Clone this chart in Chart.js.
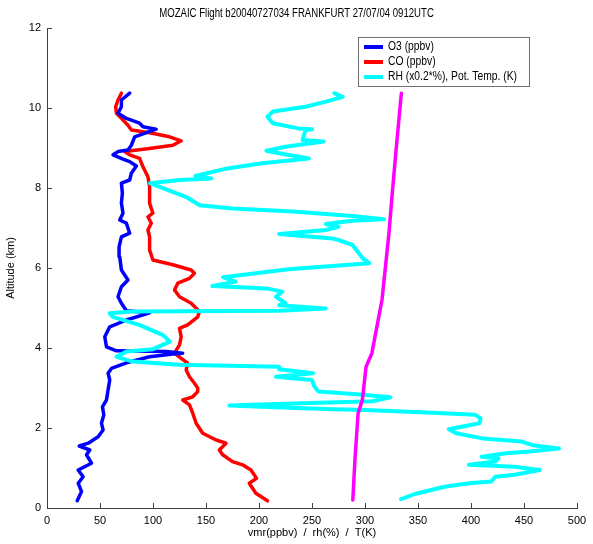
<!DOCTYPE html>
<html>
<head>
<meta charset="utf-8">
<script src="https://cdn.jsdelivr.net/npm/chart.js@4.4.0/dist/chart.umd.min.js"></script>
<style>
html,body{margin:0;padding:0;background:#ffffff;}
#wrap{width:593px;height:544px;}
</style>
</head>
<body>
<div id="wrap"><canvas id="c" width="593" height="544"></canvas></div>
<script>
// ---- tick labels ----
const xTicks = [0, 50, 100, 150, 200, 250, 300, 350, 400, 450, 500];
const yTicks = [0, 2, 4, 6, 8, 10, 12];

// ---- O3 (ppbv) ----
const o3Alt = [0.18,0.41,0.62,0.78,0.95,1.12,1.33,1.45,1.55,1.62,1.78,1.95,2.12,2.33,2.53,2.7,2.95,3.2,3.37,3.49,3.63,3.78,3.85,3.87,3.91,3.93,4.03,4.28,4.53,4.7,4.88,4.93,5.12,5.28,5.53,5.7,5.95,6.28,6.53,6.78,6.87,7.12,7.2,7.37,7.62,7.87,8.12,8.2,8.37,8.55,8.66,8.72,8.83,8.91,8.95,9.07,9.28,9.47,9.53,9.62,9.74,9.87,10.03,10.2,10.37];
const o3Val = [28.5,32.6,29.4,34.1,29.4,42,37.3,40.4,30.4,38.9,48.2,52.9,51.4,53.6,52.3,56.1,57.6,59.2,57.6,60.8,74.9,96.8,118.7,128,112.5,65.5,56.1,54.5,59.2,74.9,96.8,74.9,70.2,67,70.2,76.4,70.2,68.6,68,70.2,78,74.9,68.6,71.7,70.2,71.1,70.2,78,79.6,84.3,78,71.7,62.3,67,76.4,79.6,82.7,103,90.5,87.4,74.9,67,70.2,70.2,78];

// ---- CO (ppbv) ----
const coAlt = [0.18,0.37,0.62,0.74,0.95,1.08,1.16,1.33,1.45,1.62,1.7,1.87,2.12,2.37,2.58,2.7,2.78,2.91,3.0,3.12,3.28,3.45,3.62,3.74,3.87,4.08,4.28,4.49,4.58,4.78,4.91,5.12,5.28,5.45,5.62,5.74,5.87,5.95,6.08,6.2,6.45,6.78,6.95,7.12,7.28,7.37,7.62,8.03,8.28,8.53,8.74,8.83,8.91,8.99,9.07,9.18,9.28,9.38,9.45,9.57,9.74,9.87,10.03,10.2,10.37];
const coVal = [208,197,190.8,197.7,192.4,184.5,175,165.7,162.6,168.9,159.5,146.9,140.7,137.5,134.4,128.1,137.5,142.2,142.2,139.1,134.4,131.3,132.7,126.6,120.3,125,126.6,125,132.7,142.2,143.8,136,125,120.3,123.4,134.4,139.1,136,118.7,99.9,96.8,96.8,95.2,98.4,95.2,99.9,96.8,96.8,95.2,90.5,87.4,78,73.3,96.8,118.7,126.6,115.6,96.8,79.6,76.4,70.2,65.5,64.8,67,70.2];

// ---- RH (x0.2 %) ----
const rhAlt = [0.22,0.35,0.53,0.62,0.66,0.78,0.83,0.95,1.03,1.08,1.16,1.24,1.28,1.37,1.41,1.49,1.57,1.66,1.74,1.87,1.97,2.12,2.24,2.33,2.38,2.45,2.47,2.52,2.56,2.59,2.63,2.67,2.77,2.83,2.91,3.05,3.2,3.28,3.37,3.47,3.53,3.58,3.66,3.78,3.91,3.97,4.16,4.33,4.58,4.78,4.87,4.91,4.93,4.99,5.07,5.12,5.28,5.41,5.49,5.55,5.66,5.77,5.97,6.12,6.24,6.41,6.58,6.7,6.74,6.85,6.95,7.03,7.1,7.18,7.22,7.3,7.41,7.49,7.57,7.78,8.12,8.2,8.24,8.3,8.49,8.62,8.74,8.87,8.93,9.03,9.16,9.2,9.45,9.47,9.49,9.62,9.78,9.91,10.03,10.16,10.28,10.37];
const rhVal = [334,347,375,398,419,423,441,465,441,398,423,426,410,433,455,483,458,448,411,386,379,408,409,404,364,301,270,215,172,200,257,307,324,298,256,252,250,216,251,219,219,125,81,65.5,75,100,116,109,87,62,59,81,219,263,219,225,216,222,207,156,178,166,228,304,298,293,288,275,269,219,263,275,263,288,318,288,232,175,144,131,97,125,155,140,170,203,247,219,207,225,261,241,244,250,237,213,208,213,244,263,279,271];

// ---- Potential temperature (K) ----
const thAlt = [0.2,1.2,2.37,2.7,3.53,3.87,5.2,6.87,7.8,9.0,10.37];
const thVal = [288.5,290.5,293.5,297.5,301,306.5,316,322.6,325.5,329.5,334.3];

// ---- labels ----
const titleText = 'MOZAIC Flight b20040727034 FRANKFURT 27/07/04 0912UTC';
const xTitle = 'vmr(ppbv)  /  rh(%)  /  T(K)';
const yTitle = 'Altitude (km)';
const legendLabels = ['O3 (ppbv)', 'CO (ppbv)', 'RH (x0.2*%), Pot. Temp. (K)'];
const legendColors = ['#0000ff', '#ff0000', '#00ffff'];

const FONT = "'Liberation Sans Narrow', 'Liberation Sans', Arial, sans-serif";
Chart.defaults.font.family = FONT;
Chart.defaults.font.size = 11;
Chart.defaults.color = '#000000';

function pts(alt, val) { return val.map((v, i) => ({ x: v, y: alt[i] })); }

const lineDs = (label, alt, val, color, w) => ({
  label, data: pts(alt, val), borderColor: color, backgroundColor: color,
  borderWidth: w, pointRadius: 0, showLine: true, tension: 0,
  borderJoinStyle: 'round', borderCapStyle: 'round', fill: false
});

function condensedText(ctx, text, x, y, align, sx) {
  ctx.save();
  ctx.translate(x, y);
  ctx.scale(sx, 1);
  ctx.textAlign = align;
  ctx.fillText(text, 0, 0);
  ctx.restore();
}

const innerTicks = {
  id: 'innerTicks',
  afterDraw(chart) {
    const { ctx, chartArea: a, scales: { x, y } } = chart;
    ctx.save();
    ctx.strokeStyle = '#404040';
    ctx.lineWidth = 1;
    ctx.beginPath();
    xTicks.forEach(v => {
      const px = Math.round(x.getPixelForValue(v)) + 0.5;
      ctx.moveTo(px, a.bottom); ctx.lineTo(px, a.bottom - 5);
    });
    yTicks.forEach(v => {
      const py = Math.round(y.getPixelForValue(v)) + 0.5;
      ctx.moveTo(a.left, py); ctx.lineTo(a.left + 5, py);
    });
    ctx.stroke();
    ctx.restore();
  }
};

const titleAndLegend = {
  id: 'titleAndLegend',
  afterDraw(chart) {
    const { ctx } = chart;
    ctx.save();
    // title
    ctx.font = '12px ' + FONT;
    ctx.fillStyle = '#000000';
    ctx.textBaseline = 'middle';
    condensedText(ctx, titleText, 296.5, 14, 'center', 0.8);
    // legend box
    const bx = 358.5, by = 37.5, bw = 171, bh = 49;
    ctx.fillStyle = '#ffffff';
    ctx.fillRect(bx, by, bw, bh);
    ctx.strokeStyle = '#707070';
    ctx.lineWidth = 1;
    ctx.strokeRect(bx, by, bw, bh);
    legendLabels.forEach((t, i) => {
      const ly = 47 + i * 15;
      ctx.strokeStyle = legendColors[i];
      ctx.lineWidth = 4;
      ctx.beginPath(); ctx.moveTo(364, ly); ctx.lineTo(383, ly); ctx.stroke();
      ctx.fillStyle = '#000000';
      condensedText(ctx, t, 388, ly, 'left', 0.86);
    });
    ctx.restore();
  }
};

new Chart(document.getElementById('c'), {
  type: 'scatter',
  data: {
    datasets: [
      lineDs('Pot. Temp. (K)', thAlt, thVal, '#ff00ff', 3.5),
      lineDs(legendLabels[2], rhAlt, rhVal, '#00ffff', 4),
      lineDs(legendLabels[0], o3Alt, o3Val, '#0000ff', 3.5),
      lineDs(legendLabels[1], coAlt, coVal, '#ff0000', 3.5)
    ]
  },
  options: {
    responsive: false,
    animation: false,
    devicePixelRatio: 1,
    layout: { padding: { top: 28, right: 16, left: 0, bottom: 0 } },
    plugins: {
      legend: { display: false },
      tooltip: { enabled: false },
      title: { display: false }
    },
    scales: {
      x: {
        type: 'linear', min: 0, max: 500,
        afterFit(s) { s.height = 36; },
        afterBuildTicks(s) { s.ticks = xTicks.map(v => ({ value: v })); },
        ticks: { padding: 6, color: '#000000', font: { size: 11 }, maxRotation: 0 },
        grid: { display: false, drawTicks: false },
        border: { display: true, color: '#404040', width: 1 },
        title: { display: true, text: xTitle, color: '#000000', font: { size: 11 }, padding: { top: 4, bottom: 4 } }
      },
      y: {
        type: 'linear', min: 0, max: 12,
        afterFit(s) { s.width = 47; },
        afterBuildTicks(s) { s.ticks = yTicks.map(v => ({ value: v })); },
        ticks: { padding: 6, color: '#000000', font: { size: 11 } },
        grid: { display: false, drawTicks: false },
        border: { display: true, color: '#404040', width: 1 },
        title: { display: true, text: yTitle, color: '#000000', font: { size: 11 }, padding: { top: 4, bottom: 4 } }
      }
    }
  },
  plugins: [innerTicks, titleAndLegend]
});
</script>
</body>
</html>
